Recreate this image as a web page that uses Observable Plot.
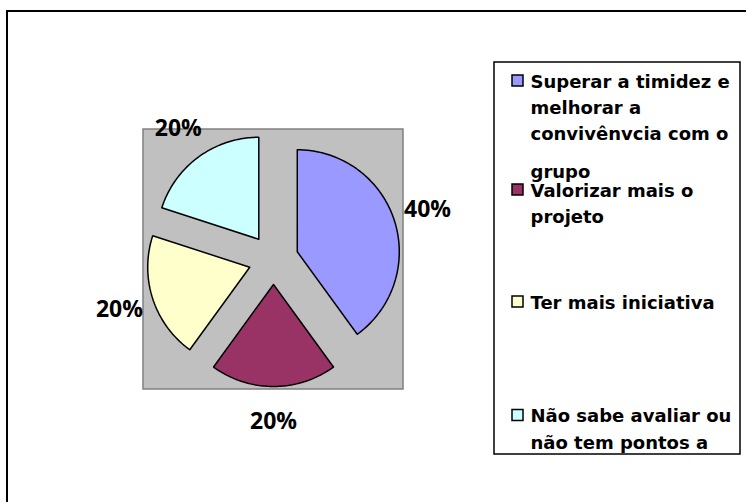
<!DOCTYPE html>
<html><head><meta charset="utf-8">
<script src="https://cdn.jsdelivr.net/npm/d3@7"></script>
<script src="https://cdn.jsdelivr.net/npm/@observablehq/plot@0.6"></script>
<style>html,body{margin:0;padding:0;background:#fff;overflow:hidden}#chart svg{overflow:hidden;display:block}</style>
</head><body><div id="chart"></div>
<script>
// ---- data ----
const categories = [
  "Superar a timidez e\nmelhorar a\nconvivênvcia com o\ngrupo",
  "Valorizar mais o\nprojeto",
  "Ter mais iniciativa",
  "Não sabe avaliar ou\nnão tem pontos a"
];
const values = [40, 20, 20, 20];
const colors = ["#9999FF", "#993366", "#FFFFCC", "#CCFFFF"];

// ---- layout ----
const W = 746, H = 502;
const cx = 273, cy = 259, R = 102, explode = 25, labelDist = 162;
const plotHalf = 130;
const legend = {x1: 494, x2: 740, y1: 62, y2: 454, swatchX: 512, swatch: 11, textX: 530};
// baselines of each legend text line (per entry)
const legendLineBaselines = [[87, 113, 139.5, 177], [196, 222.5], [308], [421.5, 448]];
const legendFont = 18;

const total = d3.sum(values);
let cum = 0;
const slices = values.map((v, i) => {
  const a0 = cum / total * 2 * Math.PI; cum += v;
  const a1 = cum / total * 2 * Math.PI;
  return {cat: categories[i], v, a0, a1, mid: (a0 + a1) / 2, pct: Math.round(v / total * 100) + "%"};
});

const pts = slices.flatMap(s => {
  const ox = cx + explode * Math.sin(s.mid), oy = cy - explode * Math.cos(s.mid);
  const n = Math.ceil((s.a1 - s.a0) / (Math.PI / 180));
  const arc = d3.range(n + 1).map(k => {
    const a = s.a0 + (s.a1 - s.a0) * k / n;
    return {cat: s.cat, x: ox + R * Math.sin(a), y: oy - R * Math.cos(a)};
  });
  return [{cat: s.cat, x: ox, y: oy}, ...arc, {cat: s.cat, x: ox, y: oy}, arc[0]];
});

const labelPts = slices.map(s => ({
  text: s.pct,
  x: cx + labelDist * Math.sin(s.mid),
  y: cy - labelDist * Math.cos(s.mid)
}));

const legendLines = slices.flatMap((s, i) =>
  s.cat.split("\n").map((line, j) => ({line, base: legendLineBaselines[i][j]})));
const legendSwatches = slices.map((s, i) => ({cat: s.cat, base: legendLineBaselines[i][0]}));

const chart = Plot.plot({
  width: W, height: H,
  margin: 0,
  x: {domain: [0, W], range: [0, W], axis: null},
  y: {domain: [0, H], range: [0, H], axis: null},
  color: {domain: categories, range: colors},
  marks: [
    // outer chart border (extends beyond the picture)
    Plot.rect([0], {x1: 7, y1: 11, x2: W + 20, y2: H + 20, fill: "white", stroke: "black", strokeWidth: 2}),
    // plot area
    Plot.rect([0], {x1: cx - plotHalf, x2: cx + plotHalf, y1: cy - plotHalf, y2: cy + plotHalf, fill: "#C0C0C0", stroke: "#808080", strokeWidth: 1.5}),
    // pie slices
    Plot.line(pts, {x: "x", y: "y", z: "cat", fill: "cat", stroke: "black", strokeWidth: 1.5, strokeLinejoin: "miter", curve: "linear"}),
    // data labels
    Plot.text(labelPts, {x: "x", y: "y", text: "text", fontFamily: "Open Sans", fontWeight: "bold", fontSize: 23, fill: "black"}),
    // legend
    Plot.rect([0], {x1: legend.x1, x2: legend.x2, y1: legend.y1, y2: legend.y2, fill: "white"}),
    Plot.text(legendLines, {x: legend.textX, y: d => d.base - 0.32 * legendFont, text: "line", textAnchor: "start", fontFamily: "DejaVu Sans", fontWeight: "bold", fontSize: legendFont, fill: "black"}),
    Plot.rect([0], {x1: legend.x1 - 2, x2: legend.x2 + 2, y1: legend.y2, y2: legend.y2 + 40, fill: "white"}),
    Plot.rect(legendSwatches, {x1: legend.swatchX, x2: legend.swatchX + legend.swatch, y1: d => d.base - 1 - legend.swatch, y2: d => d.base - 1, fill: "cat", stroke: "black", strokeWidth: 1.5}),
    Plot.rect([0], {x1: legend.x1, x2: legend.x2, y1: legend.y1, y2: legend.y2, fill: "none", stroke: "black", strokeWidth: 1.5})
  ]
});
document.getElementById("chart").append(chart);
</script>
</body></html>
